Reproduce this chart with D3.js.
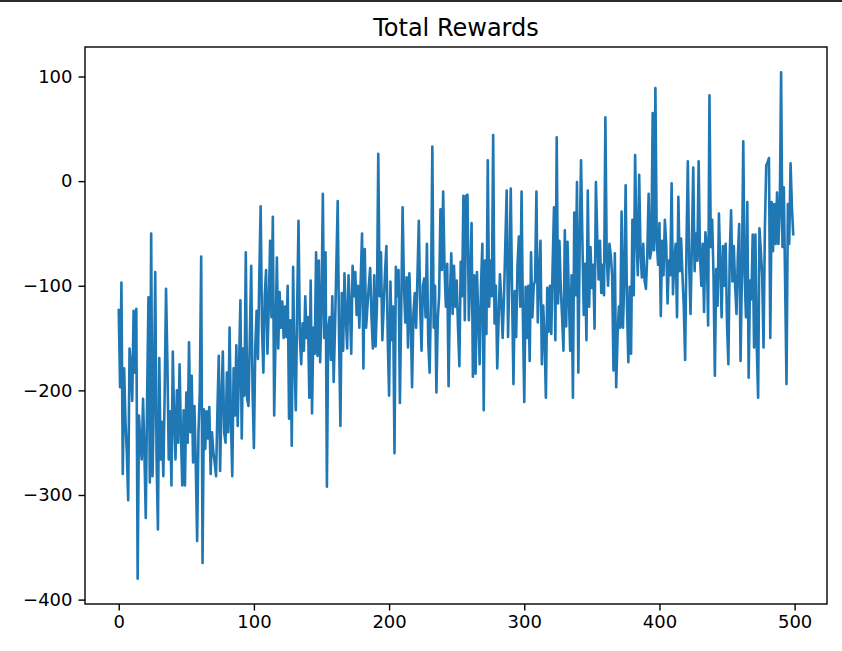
<!DOCTYPE html>
<html>
<head>
<meta charset="utf-8">
<script src="https://cdn.jsdelivr.net/npm/d3@7"></script>
<style>
  html, body { margin: 0; padding: 0; background: #fff; }
  svg { display: block; }
</style>
</head>
<body>
<div id="chart"></div>
<script>
// ---- data ----
const chartTitle = "Total Rewards";
const xTicks = [0, 100, 200, 300, 400, 500];
const yTicks = [-400, -300, -200, -100, 0, 100];
const rewards = [
  -122, -197, -97, -280, -179, -230, -260, -305, -160, -176,
  -210, -124, -183, -122, -380, -224, -250, -266, -208, -259,
  -322, -207, -111, -288, -50, -282, -208, -87, -266, -333,
  -169, -266, -230, -282, -202, -103, -173, -266, -220, -291,
  -163, -230, -266, -200, -250, -175, -240, -291, -219, -291,
  -202, -250, -154, -240, -186, -269, -215, -270, -344, -240,
  -200, -72, -365, -218, -256, -220, -246, -216, -280, -240,
  -259, -269, -282, -220, -167, -277, -210, -163, -240, -250,
  -183, -240, -140, -230, -282, -179, -224, -157, -234, -179,
  -114, -246, -160, -205, -68, -208, -215, -150, -81, -200,
  -255, -160, -124, -170, -90, -24, -140, -183, -110, -85,
  -165, -120, -57, -130, -34, -224, -150, -73, -160, -106,
  -140, -115, -150, -120, -149, -100, -227, -133, -253, -82,
  -170, -219, -120, -38, -150, -175, -136, -162, -110, -150,
  -130, -207, -95, -222, -140, -165, -68, -167, -76, -173,
  -120, -12, -150, -68, -292, -140, -130, -171, -110, -192,
  -140, -80, -19, -150, -234, -107, -162, -88, -130, -160,
  -90, -120, -165, -81, -110, -87, -128, -100, -140, -95,
  -50, -179, -65, -140, -120, -100, -83, -130, -160, -90,
  -158, -120, 26, -110, -68, -152, -120, -87, -62, -150,
  -205, -96, -152, -120, -260, -82, -110, -85, -212, -120,
  -25, -100, -135, -92, -159, -88, -130, -197, -127, -107,
  -140, -90, -38, -120, -162, -100, -93, -130, -60, -155,
  -183, -110, 33, -140, -100, -202, -133, -110, -27, -85,
  -10, -82, -120, -79, -196, -110, -69, -127, -81, -120,
  -95, -140, -177, -77, -110, -14, -133, -14, -13, -133,
  -95, -40, -187, -90, -184, -87, -130, -175, -100, -60,
  -219, -76, -146, 20, -120, -76, -110, 44, -136, -100,
  -179, -133, -89, -114, -150, -111, -60, -9, -149, -87,
  -7, -108, -194, -105, -149, -80, -53, -120, -10, -130,
  -211, -101, -150, -100, -172, -68, -130, -100, -95, -10,
  -135, -90, -57, -175, -119, -150, -207, -102, -144, -100,
  -146, -80, -25, -152, 42, -117, -57, -102, -130, -162,
  -47, -139, -58, -110, -162, -90, -207, -30, -109, -1,
  -183, -60, 20, -57, -128, -79, -152, -9, -120, -63,
  -102, -80, -141, -1, -54, -94, -57, -107, -80, -109,
  61, -73, -100, -60, -71, -90, -181, -69, -197, -149,
  -120, -140, -29, -140, -95, -4, -120, -173, -101, -165,
  -37, -109, 25, -53, -90, 6, -69, -92, -60, -95,
  -103, -70, -12, -74, -66, 65, -66, 89, -57, -80,
  -40, -129, -57, -90, -37, -60, -117, -76, -90, -2,
  -108, -76, -60, -130, -15, -86, -55, -89, -120, -171,
  -62, 19, -80, -127, -60, 13, -86, -50, -76, 19,
  -72, -100, -60, -125, -49, -63, -138, 82, -63, -37,
  -90, -186, -84, -119, -31, -80, -130, -62, -100, -60,
  -138, -175, -70, -28, -96, -62, -100, -127, -72, -41,
  -172, -90, 38, -88, -130, -20, -188, -95, -113, -51,
  -159, -51, -158, -207, -45, -67, -90, -159, -45, 15,
  18, 22, -150, -20, -67, -22, -60, -11, -60, -30,
  104, -63, -6, -100, -194, -22, -60, 17, -25, -52
];

// ---- layout ----
const W = 842, H = 651;
const plot = { left: 85, right: 827, top: 47, bottom: 604 };
const fontFamily = "'DejaVu Sans', sans-serif";
const tickFont = 18;
const titleFont = 24;
const lineColor = "#1f77b4";

const svg = d3.select("#chart").append("svg")
  .attr("width", W).attr("height", H)
  .attr("viewBox", `0 0 ${W} ${H}`);

svg.append("rect").attr("width", W).attr("height", H).attr("fill", "#fff");
// screenshot edge at the top
svg.append("rect").attr("x", 0).attr("y", 0).attr("width", W).attr("height", 2).attr("fill", "#2b2b2b");

// scales with matplotlib-like 5% margins
const n = rewards.length;
const xPad = (n - 1) * 0.05;
const x = d3.scaleLinear().domain([-xPad, (n - 1) + xPad]).range([plot.left, plot.right]);
const yMin = d3.min(rewards), yMax = d3.max(rewards);
const yPad = (yMax - yMin) * 0.05;
const y = d3.scaleLinear().domain([yMin - yPad, yMax + yPad]).range([plot.bottom, plot.top]);

// clip
svg.append("clipPath").attr("id", "clip").append("rect")
  .attr("x", plot.left).attr("y", plot.top)
  .attr("width", plot.right - plot.left).attr("height", plot.bottom - plot.top);

// line
const line = d3.line().x((d, i) => x(i)).y(d => y(d));
svg.append("path")
  .datum(rewards)
  .attr("clip-path", "url(#clip)")
  .attr("fill", "none")
  .attr("stroke", lineColor)
  .attr("stroke-width", 2.6)
  .attr("stroke-linejoin", "round")
  .attr("stroke-linecap", "butt")
  .attr("d", line);

// axes
const fmt = d3.format("d");
const xAxis = d3.axisBottom(x).tickValues(xTicks).tickFormat(fmt).tickSize(6.5).tickPadding(5);
const yAxis = d3.axisLeft(y).tickValues(yTicks).tickFormat(fmt).tickSize(6.5).tickPadding(6);

const gx = svg.append("g").attr("transform", `translate(0,${plot.bottom})`).call(xAxis);
const gy = svg.append("g").attr("transform", `translate(${plot.left},0)`).call(yAxis);
[gx, gy].forEach(g => {
  g.select(".domain").remove();
  g.selectAll(".tick line").attr("stroke", "#000").attr("stroke-width", 1.4);
  g.selectAll(".tick text")
    .attr("fill", "#000")
    .style("font-family", fontFamily)
    .style("font-size", tickFont + "px");
});

// frame
svg.append("rect")
  .attr("x", plot.left).attr("y", plot.top)
  .attr("width", plot.right - plot.left).attr("height", plot.bottom - plot.top)
  .attr("fill", "none").attr("stroke", "#000").attr("stroke-width", 1.4);

// title
svg.append("text")
  .attr("x", (plot.left + plot.right) / 2)
  .attr("y", 36)
  .attr("text-anchor", "middle")
  .attr("fill", "#000")
  .style("font-family", fontFamily)
  .style("font-size", titleFont + "px")
  .text(chartTitle);
</script>
</body>
</html>
